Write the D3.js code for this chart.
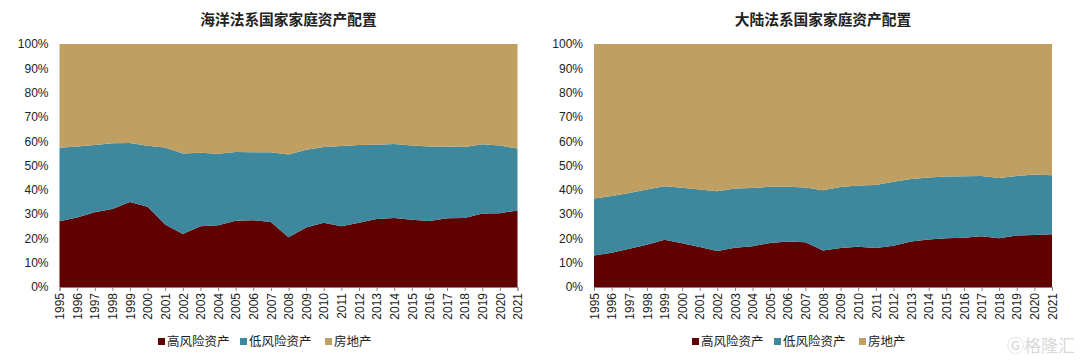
<!DOCTYPE html>
<html>
<head>
<meta charset="utf-8">
<script src="https://cdn.jsdelivr.net/npm/d3@7"></script>
<style>
  body { margin: 0; background: #fff; }
  svg text { font-family: "Liberation Sans", Arial, "Noto Sans CJK SC", sans-serif; }
  .cjk { font-family: "Noto Sans CJK SC", sans-serif; }
</style>
</head>
<body>
<svg id="chart" width="1080" height="364"></svg>
<script>
// years on the x axis
var years = d3.range(1995, 2022).map(String);
var series_names = ["高风险资产", "低风险资产", "房地产"];
var yTicks = [0, 10, 20, 30, 40, 50, 60, 70, 80, 90, 100];

// 海洋法系 (common law) household asset shares, %
var commonHigh = [27.1, 28.6, 30.8, 32.1, 35.0, 33.0, 25.7, 21.8, 25.0, 25.4, 27.3, 27.5, 26.8, 20.5,
                  24.5, 26.4, 25.0, 26.4, 28.0, 28.4, 27.7, 27.2, 28.3, 28.4, 30.2, 30.4, 31.5];
var commonLow = [30.2, 29.2, 27.6, 27.1, 24.3, 25.1, 31.7, 33.1, 30.2, 29.4, 28.3, 28.0, 28.7, 34.0,
                 32.0, 31.2, 33.0, 32.0, 30.5, 30.4, 30.5, 30.6, 29.5, 29.2, 28.5, 27.8, 25.5];
var commonEstate = [42.7, 42.2, 41.6, 40.8, 40.7, 41.9, 42.6, 45.1, 44.8, 45.2, 44.4, 44.5, 44.5, 45.5,
                    43.5, 42.4, 42.0, 41.6, 41.5, 41.2, 41.8, 42.2, 42.2, 42.4, 41.3, 41.8, 43.0];

// 大陆法系 (civil law) household asset shares, %
var civilHigh = [13.0, 14.1, 15.7, 17.4, 19.4, 18.0, 16.5, 14.8, 16.2, 16.8, 18.1, 18.7, 18.4, 15.0,
                 16.1, 16.6, 16.1, 17.0, 18.7, 19.5, 20.1, 20.3, 20.9, 20.1, 21.2, 21.4, 21.7];
var civilLow = [23.4, 23.4, 23.0, 22.7, 22.1, 22.8, 23.6, 24.6, 24.3, 23.9, 23.2, 22.6, 22.5, 24.8,
                25.1, 25.2, 25.9, 26.3, 25.7, 25.6, 25.4, 25.3, 24.8, 24.8, 24.5, 24.9, 24.3];
var civilEstate = [63.6, 62.5, 61.3, 59.9, 58.5, 59.2, 59.9, 60.6, 59.5, 59.3, 58.7, 58.7, 59.1, 60.2,
                   58.8, 58.2, 58.0, 56.7, 55.6, 54.9, 54.5, 54.4, 54.3, 55.1, 54.3, 53.7, 54.0];

var colors = ["#600000", "#3d889c", "#bf9f62"];
var svg = d3.select("#chart");

function panel(opts) {
  var rows = years.map(function(y, i) {
    var r = { year: y };
    r[series_names[0]] = opts.high[i];
    r[series_names[1]] = opts.low[i];
    r[series_names[2]] = opts.estate[i];
    return r;
  });
  var stack = d3.stack().keys(series_names).offset(d3.stackOffsetExpand);
  var layers = stack(rows);

  var x = d3.scalePoint().domain(years).range([opts.left, opts.right]);
  var y = d3.scaleLinear().domain([0, 1]).range([287, 44]);

  var g = svg.append("g");

  var area = d3.area()
    .x(function(d) { return x(d.data.year); })
    .y0(function(d) { return y(d[0]); })
    .y1(function(d) { return y(d[1]); });

  g.selectAll("path.layer").data(layers).enter().append("path")
    .attr("class", "layer")
    .attr("d", area)
    .attr("fill", function(d, i) { return colors[i]; });

  // y axis labels only
  var ya = g.append("g").attr("transform", "translate(" + (opts.left - 4) + ",0)")
    .call(d3.axisLeft(y).tickValues(yTicks.map(function(v) { return v / 100; }))
      .tickFormat(function(v) { return Math.round(v * 100) + "%"; }).tickSize(0).tickPadding(7));
  ya.select(".domain").remove();
  ya.selectAll("text").attr("font-size", 12).attr("fill", "#222")
    .style("font-family", "'Liberation Sans', Arial, sans-serif");

  // x axis with rotated year labels
  var xa = g.append("g").attr("transform", "translate(0,287)")
    .call(d3.axisBottom(x).tickSize(4).tickPadding(3));
  xa.select(".domain").attr("stroke", "#888");
  xa.selectAll(".tick line").attr("stroke", "#888");
  xa.selectAll("text")
    .attr("font-size", 12).attr("fill", "#222")
    .style("font-family", "'Liberation Sans', Arial, sans-serif")
    .attr("transform", "rotate(-90)")
    .attr("text-anchor", "end")
    .attr("x", -6).attr("y", 0).attr("dy", "0.35em");

  g.append("text").attr("class", "cjk")
    .attr("x", (opts.left + opts.right) / 2).attr("y", 25)
    .attr("text-anchor", "middle").attr("font-size", 14.7).attr("font-weight", "bold")
    .attr("fill", "#222").text(opts.title);

  // legend
  var lg = g.append("g").attr("transform", "translate(" + opts.legendX + ",342)");
  var offs = [0, 82, 167];
  series_names.forEach(function(n, i) {
    lg.append("rect").attr("x", offs[i]).attr("y", -4).attr("width", 7).attr("height", 7)
      .attr("fill", colors[i]);
    lg.append("text").attr("class", "cjk").attr("x", offs[i] + 9).attr("y", 0)
      .attr("dy", "0.35em").attr("font-size", 12.5).attr("fill", "#222").text(n);
  });
}

panel({ title: "海洋法系国家家庭资产配置", left: 59.5, right: 517.5, legendX: 158,
        high: commonHigh, low: commonLow, estate: commonEstate });
panel({ title: "大陆法系国家家庭资产配置", left: 594, right: 1052, legendX: 692,
        high: civilHigh, low: civilLow, estate: civilEstate });

// watermark
svg.append("text").attr("class", "cjk").attr("x", 1075).attr("y", 352)
  .attr("text-anchor", "end").attr("font-size", 17).attr("fill", "#d8d8d8").text("Ⓖ格隆汇");
</script>
</body>
</html>
